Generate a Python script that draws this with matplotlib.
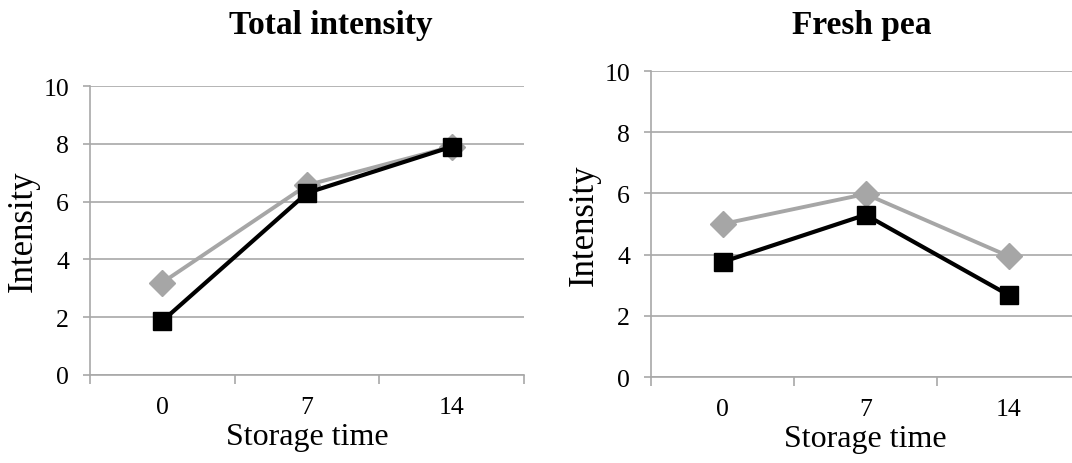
import matplotlib
matplotlib.use("Agg")
import matplotlib.pyplot as plt

plt.rcParams['font.family'] = ['Liberation Serif', 'DejaVu Serif']

storage_days = ["0", "7", "14"]
yticks = [0, 2, 4, 6, 8, 10]

# Total intensity panel
total_gray = [3.2, 6.57, 7.9]
total_black = [1.87, 6.3, 7.9]

# Fresh pea panel
pea_gray = [5.0, 5.98, 3.95]
pea_black = [3.76, 5.3, 2.68]

GRAY = "#a6a6a6"
GRID = "#a8a8a8"


def style_ax(ax, gray, black):
    x = range(len(storage_days))
    ax.plot(x, gray, color=GRAY, lw=2.8, marker="D", ms=13, mec=GRAY, mfc=GRAY, zorder=3, clip_on=False)
    ax.plot(x, black, color="black", lw=3.0, marker="s", ms=13.5, mec="black", mfc="black", zorder=4, clip_on=False)
    ax.set_xlim(-0.5, len(storage_days) - 0.5)
    ax.set_ylim(0, 10)
    ax.set_yticks(yticks)
    ax.tick_params(axis="y", labelsize=18.5, length=5, color=GRID, width=1.2, pad=10)
    # category labels between ticks, ticks at category boundaries
    ax.set_xticks([-0.5, 0.5, 1.5, 2.5])
    ax.set_xticklabels([])
    ax.set_xticks(list(x), minor=True)
    ax.set_xticklabels(storage_days, minor=True)
    ax.tick_params(axis="x", which="major", length=6.5, color=GRID, width=1.2, direction="out")
    ax.tick_params(axis="x", which="minor", length=0, labelsize=18.5, pad=15)
    ax.grid(axis="y", color=GRID, lw=1.2)
    ax.set_axisbelow(True)
    for s in ["top", "right"]:
        ax.spines[s].set_visible(False)
    for s in ["left", "bottom"]:
        ax.spines[s].set_color(GRID)
        ax.spines[s].set_linewidth(1.2)
    ax.set_xlabel("Storage time", fontsize=23, labelpad=3)
    ax.set_ylabel("Intensity", fontsize=25, labelpad=3)


fig = plt.figure(figsize=(10.72, 4.64), dpi=100)
ax1 = fig.add_axes([0.0840, 0.1897, 0.4049, 0.6228])
ax2 = fig.add_axes([0.6073, 0.1853, 0.4002, 0.6595])

style_ax(ax1, total_gray, total_black)
style_ax(ax2, pea_gray, pea_black)

fig.text(0.309, 0.946, "Total intensity", ha="center", va="center", fontsize=24, fontweight="bold")
fig.text(0.804, 0.946, "Fresh pea", ha="center", va="center", fontsize=24, fontweight="bold")

fig.savefig("out.png", dpi=100)
